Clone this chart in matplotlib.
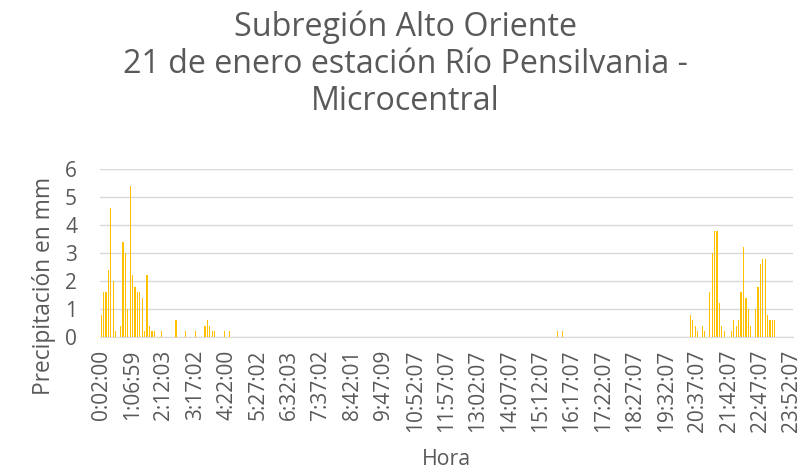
import matplotlib
matplotlib.use("Agg")
import matplotlib.pyplot as plt
import numpy as np

n_categories = 287
tick_labels = ["0:02:00", "1:06:59", "2:12:03", "3:17:02", "4:22:00", "5:27:02",
               "6:32:03", "7:37:02", "8:42:01", "9:47:09", "10:52:07", "11:57:07",
               "13:02:07", "14:07:07", "15:12:07", "16:17:07", "17:22:07", "18:27:07",
               "19:32:07", "20:37:07", "21:42:07", "22:47:07", "23:52:07"]
tick_step = 13

# nonzero precipitation (mm) by category index (5-minute records)
nonzero = {
    0: 0.8, 1: 1.6, 2: 1.6, 3: 2.4, 4: 4.6, 5: 2.0, 6: 0.2, 8: 0.4, 9: 3.4, 10: 3.0,
    11: 1.0, 12: 5.4, 13: 2.2, 14: 1.8, 15: 1.6, 16: 1.6, 17: 1.4, 18: 0.2, 19: 2.2,
    20: 0.4, 21: 0.2, 22: 0.2, 25: 0.2, 31: 0.6, 35: 0.2, 39: 0.2, 43: 0.4, 44: 0.6,
    45: 0.4, 46: 0.2, 47: 0.2, 51: 0.2, 53: 0.2,
    189: 0.2, 191: 0.2,
    244: 0.8, 245: 0.6, 246: 0.4, 247: 0.2, 249: 0.4, 250: 0.2, 252: 1.6, 253: 3.0,
    254: 3.8, 255: 3.8, 256: 1.2, 257: 0.4, 258: 0.2, 261: 0.2, 262: 0.6, 263: 0.4,
    264: 0.6, 265: 1.6, 266: 3.2, 267: 1.4, 268: 1.0, 269: 0.4, 271: 1.0, 272: 1.8,
    273: 2.6, 274: 2.8, 275: 2.8, 276: 0.8, 277: 0.6, 278: 0.6, 279: 0.6,
}
values = [nonzero.get(i, 0.0) for i in range(n_categories)]

title_lines = ["Subregión Alto Oriente",
               "21 de enero estación Río Pensilvania -",
               "Microcentral"]
ylabel = "Precipitación en mm"
xlabel = "Hora"

plt.rcParams['font.family'] = ['Open Sans', 'DejaVu Sans']
txt = '#595959'
W, H = 809, 474

fig = plt.figure(figsize=(W/100, H/100), dpi=100)
ax = fig.add_axes([100/W, 1-337/H, 693/W, 168/H])

x = np.arange(n_categories)
ax.bar(x, values, width=0.5, color='#FFC000', zorder=3)
ax.set_xlim(-0.5, n_categories - 0.5)
ax.set_ylim(0, 6)
ax.set_yticks(range(0, 7))
ax.yaxis.grid(True, color='#D9D9D9', linewidth=1.0, zorder=0)
for s in ['top', 'right', 'left']:
    ax.spines[s].set_visible(False)
ax.spines['bottom'].set_color('#D9D9D9')
ax.tick_params(axis='both', length=0, colors=txt, labelsize=15)
ax.tick_params(axis='y', pad=16.5)
ax.tick_params(axis='x', pad=9)
ax.set_xticks([i * tick_step for i in range(len(tick_labels))])
ax.set_xticklabels(tick_labels, rotation=90)

fig.text(44/W, 1-286/H, ylabel, rotation=90, ha='center', va='center',
         fontsize=16.4, color=txt)
fig.text(446/W, 1-465/H, xlabel, ha='center', va='baseline',
         fontsize=15.3, color=txt)
for i, line in enumerate(title_lines):
    fig.text(405/W, 1-(36 + 37*i)/H, line, ha='center', va='baseline',
             fontsize=23.2, color=txt)

fig.savefig('out.png', dpi=100)
